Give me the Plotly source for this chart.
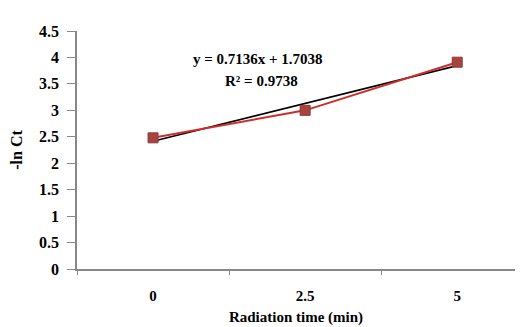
import numpy as np
import plotly.graph_objects as go

categories = ["0", "2.5", "5"]
ln_ct = [2.48, 3.00, 3.91]
equation_text = "y = 0.7136x + 1.7038"
r2_text = "R² = 0.9738"

# linear trendline over category index 1..n (Excel style)
xi = np.arange(1, len(ln_ct) + 1)
slope, intercept = np.polyfit(xi, ln_ct, 1)
trend = slope * xi + intercept

ff = "Liberation Serif"
font = dict(family=ff, size=15, color="black")

fig = go.Figure()
fig.add_trace(go.Scatter(x=categories, y=trend, mode="lines",
                         line=dict(color="black", width=1.6), showlegend=False))
fig.add_trace(go.Scatter(x=categories, y=ln_ct, mode="lines+markers",
                         line=dict(color="#CC2F2B", width=2),
                         marker=dict(symbol="square", size=10, color="#A8443F",
                                     line=dict(color="#8B3A36", width=1)),
                         showlegend=False))

fig.add_annotation(text="<b>" + equation_text + "</b>", x=0.414, y=0.925,
                   xref="paper", yref="paper", showarrow=False, font=font)
fig.add_annotation(text="<b>" + r2_text + "</b>", x=0.422, y=0.83,
                   xref="paper", yref="paper", showarrow=False, font=font)

fig.update_layout(
    width=523, height=327,
    margin=dict(l=77, r=8, t=31, b=58),
    paper_bgcolor="white", plot_bgcolor="white",
    font=font,
    xaxis=dict(type="category", range=[-0.5, 2.38], showgrid=False, automargin=False,
               showline=True, linecolor="#888", linewidth=1.5,
               ticks="outside", ticklen=4, tickcolor="#888", tickson="boundaries",
               ticklabelstandoff=12,
               tickfont=dict(family=ff, size=15, color="black", weight="bold"),
               title=dict(text="<b>Radiation time (min)</b>", standoff=9,
                          font=dict(family=ff, size=15))),
    yaxis=dict(range=[0, 4.5], dtick=0.5, showgrid=False, zeroline=False, automargin=False,
               showline=True, linecolor="#888", linewidth=1.5,
               ticks="outside", ticklen=8, tickcolor="#888",
               ticklabelstandoff=5,
               tickfont=dict(family=ff, size=16, color="black", weight="bold"),
               title=dict(text="<b>-ln Ct</b>", standoff=12,
                          font=dict(family=ff, size=16))),
)

fig.write_html("out.html")
